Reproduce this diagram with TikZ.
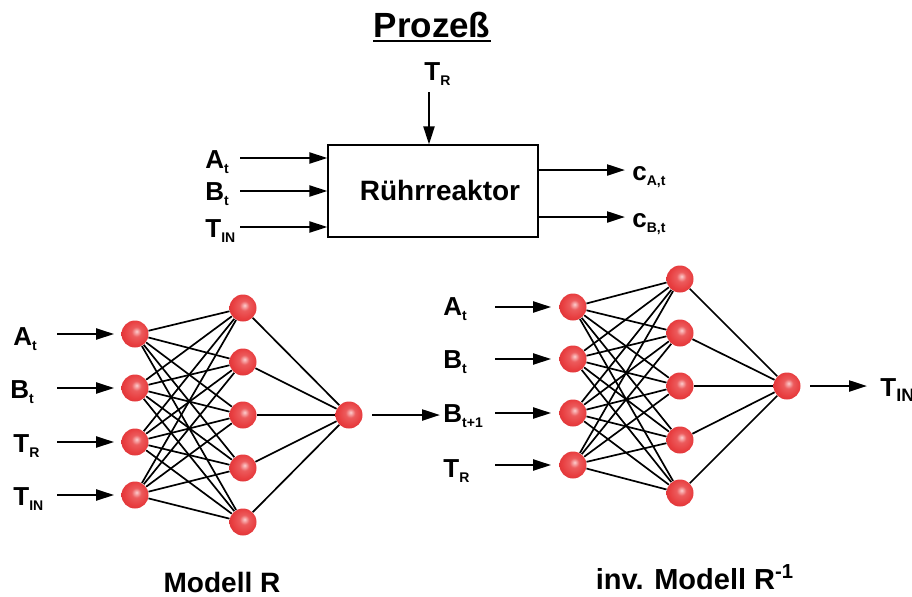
\documentclass[tikz,border=0pt]{standalone}
\usepackage{fontspec}
\setmainfont{Liberation Sans}
\usetikzlibrary{arrows.meta,shadings}
\definecolor{ballhi}{RGB}{252,205,205}
\definecolor{ballmid}{RGB}{232,62,64}
\definecolor{balledge}{RGB}{205,36,42}
\pgfdeclareradialshading{neuronball}{\pgfpoint{3bp}{5bp}}{%
  color(0bp)=(ballhi); color(9bp)=(ballmid!80!ballhi); color(22bp)=(ballmid);
  color(42bp)=(balledge); color(50bp)=(balledge)}
\tikzset{
  % signal arrows (process inputs/outputs, net inputs/outputs)
  signal/.style={-{Triangle[length=9pt,width=5.5pt]},line width=1.1pt},
  % neurons: red balls, synapses: thin lines between them
  neuron/.style={circle,shading=neuronball,minimum size=13.5pt,inner sep=0pt},
  synapse/.style={line width=0.85pt},
  % process block
  block/.style={draw,line width=0.6pt,minimum width=105pt,minimum height=46pt,inner sep=0pt},
  lbl/.style={font=\fontsize{13}{13}\selectfont\bfseries,inner sep=0pt},
  caption/.style={font=\fontsize{14}{14}\selectfont\bfseries,inner sep=0pt},
}
\newcommand{\vsub}[2]{#1\raisebox{-2.5pt}{\fontsize{7}{7}\selectfont #2}}

\begin{document}
\begin{tikzpicture}[x=0.5pt,y=-0.5pt]
  \useasboundingbox (0,0) rectangle (912,596);
  % --- Prozess ---
  \node[inner sep=0pt,font=\fontsize{17.5}{17.5}\selectfont\bfseries,anchor=base] (title) at (432,37) {Prozeß};
  \draw[line width=1.1pt] ([yshift=-2pt]title.base west) -- ([yshift=-2pt]title.base east);
  \node[block] (box) at (433,191) {};
  \node[caption,anchor=base] (rr) at (440,200) {Rührreaktor};
  \node[lbl,anchor=base west] (lTR) at (424,80) {\vsub{T}{R}};
  \coordinate (pTR) at (429,92);
  \draw[signal] (pTR) -- (pTR |- box.north);
  \node[lbl,anchor=base west] (lA) at (205,168) {\vsub{A}{t}};
  \node[lbl,anchor=base west] (lB) at (205,200) {\vsub{B}{t}};
  \node[lbl,anchor=base west] (lT) at (205,237) {\vsub{T}{IN}};
  \coordinate (pA) at (240,158);
  \coordinate (pB) at (240,191);
  \coordinate (pT) at (240,227);
  \draw[signal] (pA) -- (pA -| box.west);
  \draw[signal] (pB) -- (pB -| box.west);
  \draw[signal] (pT) -- (pT -| box.west);
  \coordinate (qA) at (625,170);
  \coordinate (qB) at (625,217);
  \draw[signal] (qA -| box.east) -- (qA);
  \draw[signal] (qB -| box.east) -- (qB);
  \node[lbl,anchor=base west] (lcA) at (632,180) {\vsub{c}{A,t}};
  \node[lbl,anchor=base west] (lcB) at (632,227) {\vsub{c}{B,t}};

  % --- Modell R ---
  \foreach \i/\y in {1/334,2/388,3/442,4/495} {
    \node[neuron] (mi\i) at (135,\y) {};
    \coordinate (ma\i) at (57,\y);
    \draw[signal,shorten >=3.5pt] (ma\i) -- (mi\i);
  }
  \foreach \j/\y in {1/308,2/362,3/415,4/468,5/522}
    \node[neuron] (mh\j) at (243,\y) {};
  \node[neuron] (mo) at (349,415) {};
  \foreach \i in {1,...,4}
    \foreach \j in {1,...,5}
      \draw[synapse] (mi\i) -- (mh\j);
  \foreach \j in {1,...,5}
    \draw[synapse] (mh\j) -- (mo);
  \coordinate (mz) at (440,415);
  \draw[signal,shorten <=4.75pt] (mo) -- (mz);
  \node[lbl,anchor=base west] at (13,345) {\vsub{A}{t}};
  \node[lbl,anchor=base west] at (10,398) {\vsub{B}{t}};
  \node[lbl,anchor=base west] at (13,452) {\vsub{T}{R}};
  \node[lbl,anchor=base west] at (13,505) {\vsub{T}{IN}};
  \node[caption,anchor=base] at (222,592) {Modell R};

  % --- inv. Modell R^-1 ---
  \foreach \i/\y in {1/307,2/359,3/413,4/465} {
    \node[neuron] (ii\i) at (573,\y) {};
    \coordinate (ia\i) at (495,\y);
    \draw[signal,shorten >=4pt] (ia\i) -- (ii\i);
  }
  \foreach \j/\y in {1/279,2/333,3/386,4/440,5/493}
    \node[neuron] (ih\j) at (680,\y) {};
  \node[neuron] (io) at (787,386) {};
  \foreach \i in {1,...,4}
    \foreach \j in {1,...,5}
      \draw[synapse] (ii\i) -- (ih\j);
  \foreach \j in {1,...,5}
    \draw[synapse] (ih\j) -- (io);
  \coordinate (iz) at (867,386);
  \draw[signal,shorten <=4.75pt] (io) -- (iz);
  \node[lbl,anchor=base west] at (443,315) {\vsub{A}{t}};
  \node[lbl,anchor=base west] at (443,368) {\vsub{B}{t}};
  \node[lbl,anchor=base west] at (443,422) {\vsub{B}{t+1}};
  \node[lbl,anchor=base west] at (443,477) {\vsub{T}{R}};
  \node[lbl,anchor=base west] at (880,396) {\vsub{T}{\fontsize{9}{9}\selectfont IN}};
  \node[caption,font=\fontsize{14.5}{14.5}\selectfont\bfseries,anchor=base] at (695,589) {inv. Modell R\textsuperscript{-1}};
\end{tikzpicture}
\end{document}
